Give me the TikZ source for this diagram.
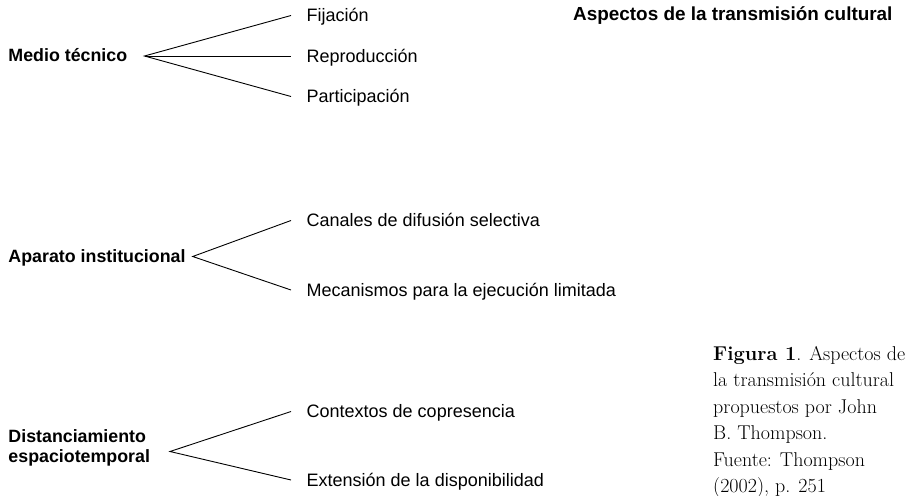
\documentclass[tikz,border=0pt]{standalone}
\usepackage{fontspec}
\newfontfamily\arialfont{Liberation Sans}
\usepackage{tikz}
\usetikzlibrary{positioning}
\tikzset
{
  mainnode/.style = {anchor=base west, inner sep=0pt, align=left, font=\arialfont\bfseries\fontsize{17.8}{20.4}\selectfont},
  leafnode/.style = {anchor=west, inner xsep=15.5pt, inner ysep=0pt, text height=12.8pt, text depth=0pt, font=\arialfont\fontsize{18}{21}\selectfont},
  branch/.style   = {draw=black, line width=0.9pt}
}

\begin{document}
\begin{tikzpicture}[x=1pt, y=-1pt]
            \useasboundingbox (0,0) rectangle (915,495);
            % titulo
            \node [mainnode, font=\arialfont\bfseries\fontsize{18.9}{22}\selectfont] (titulo) at (573,20.7) {Aspectos de la transmisión cultural};
            % medio tecnico
            \node [mainnode] (medio) at (8.3,61) {Medio técnico};
            \coordinate (medio-r) at (144.5,56);
            \node [leafnode] (fijacion) at (291,15.5) {Fijación};
            \node [leafnode] (reproduccion) at (291,56) {Reproducción};
            \node [leafnode] (participacion) at (291,96.5) {Participación};
            \draw [branch] (fijacion.west) -- (medio-r) -- (participacion.west);
            \draw [branch] (medio-r) -- (reproduccion.west);
            % aparato institucional
            \node [mainnode] (aparato) at (8.3,262.7) {Aparato institucional};
            \coordinate (aparato-r) at (192.7,256.5);
            \node [leafnode] (canales) at (291,220.5) {Canales de difusión selectiva};
            \node [leafnode] (mecanismos) at (291,290) {Mecanismos para la ejecución limitada};
            \draw [branch] (canales.west) -- (aparato-r) -- (mecanismos.west);
            % distanciamiento (base = ultima linea)
            \node [mainnode] (distanc) at (8.3,462.7) {Distanciamiento\\espaciotemporal};
            \coordinate (distanc-r) at (170,451.5);
            \node [leafnode] (contextos) at (291,411.5) {Contextos de copresencia};
            \node [leafnode] (extension) at (291,480) {Extensión de la disponibilidad};
            \draw [branch] (contextos.west) -- (distanc-r) -- (extension.west);
            % pie de figura
            \node [anchor=base west, inner sep=0pt, align=left, font=\fontsize{20}{26.5}\selectfont] (pie) at (713,492.5)
              {\textbf{Figura 1}. Aspectos de\\la transmisión cultural\\propuestos por John\\B. Thompson.\\Fuente: Thompson\\(2002), p. 251};
          \end{tikzpicture}
\end{document}
